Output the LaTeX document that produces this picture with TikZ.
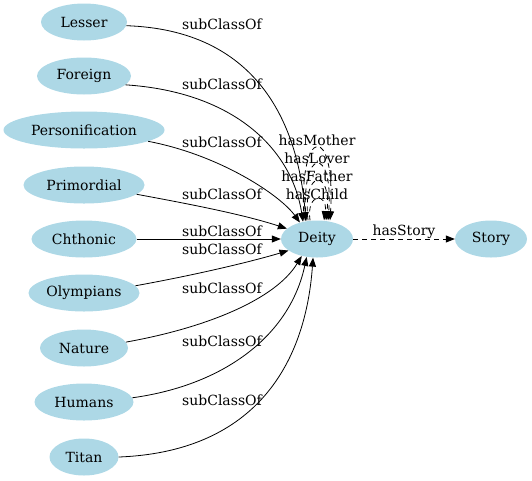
\documentclass[tikz,border=0pt]{standalone}
\usepackage{fontspec}
\setmainfont{DejaVu Serif}
\usepackage{tikz}
\usetikzlibrary{shapes,arrows.meta,positioning,calc}
\definecolor{lightblue}{RGB}{173,216,230}

\begin{document}
\begin{tikzpicture}[x=1pt,y=-1pt,font=\fontsize{14}{16}\selectfont,
    >={Triangle[length=9pt,width=7pt]},
    cls/.style={ellipse,fill=lightblue,minimum height=37pt,inner sep=0pt},
    rel/.style={->,line width=0.8pt},
    lnk/.style={->,line width=0.8pt,dash pattern=on 5pt off 4pt},
    lbl/.style={inner sep=0pt}]
      \useasboundingbox (0,0) rectangle (532,480);

      \coordinate (les) at (84,22);
      \coordinate (for) at (84,76);
      \coordinate (per) at (84,130);
      \coordinate (pri) at (84,185);
      \coordinate (cht) at (84,239);
      \coordinate (oly) at (84,293);
      \coordinate (nat) at (84,348);
      \coordinate (hum) at (84,402);
      \coordinate (tit) at (84,457);
      \coordinate (dei) at (317,239);
      \coordinate (sto) at (491,239);

      \node[cls,minimum width=86pt] (lesn) at (les) {Lesser};
      \node[cls,minimum width=94pt] (forn) at (for) {Foreign};
      \node[cls,minimum width=161pt] (pern) at (per) {Personification};
      \node[cls,minimum width=121pt] (prin) at (pri) {Primordial};
      \node[cls,minimum width=105pt] (chtn) at (cht) {Chthonic};
      \node[cls,minimum width=111pt] (olyn) at (oly) {Olympians};
      \node[cls,minimum width=88pt] (natn) at (nat) {Nature};
      \node[cls,minimum width=99pt] (humn) at (hum) {Humans};
      \node[cls,minimum width=69pt] (titn) at (tit) {Titan};
      \node[cls,minimum width=72pt] (dein) at (dei) {Deity};
      \node[cls,minimum width=72pt] (ston) at (sto) {Story};

      \draw[rel] (lesn.-5) .. controls (255,30) and (298,120) .. (dein.122)
        node[lbl] (s1) at (222,24) {subClassOf};
      \draw[rel] (forn.-12) .. controls (235,92) and (292,150) .. (dein.129)
        node[lbl] (s2) at (222,84) {subClassOf};
      \draw[rel] (pern.-10) .. controls (220,155) and (280,195) .. (dein.136)
        node[lbl] (s3) at (222,142) {subClassOf};
      \draw[rel] (prin.-10) .. controls (195,205) and (245,215) .. (dein.161)
        node[lbl] (s4) at (222,194) {subClassOf};
      \draw[rel] (chtn) -- (dein)
        node[lbl] (s5) at (222,231) {subClassOf};
      \draw[rel] (olyn.8) .. controls (195,275) and (250,262) .. (dein.202)
        node[lbl] (s6) at (222,249) {subClassOf};
      \draw[rel] (natn.8) .. controls (205,328) and (275,300) .. (dein.228)
        node[lbl] (s7) at (222,288) {subClassOf};
      \draw[rel] (humn.5) .. controls (225,385) and (290,335) .. (dein.240)
        node[lbl] (s8) at (222,341) {subClassOf};
      \draw[rel] (titn.east) .. controls (250,452) and (305,370) .. (dein.258)
        node[lbl] (s9) at (222,400) {subClassOf};

      \draw[lnk] ([xshift=-13]dein.north) .. controls +(-6,-97) and +(6,-97) .. ([xshift=13]dein.north)
        node[lbl] (m1) at (317,140) {hasMother};
      \draw[lnk] ([xshift=-11]dein.north) .. controls +(-6,-75) and +(6,-75) .. ([xshift=11]dein.north)
        node[lbl] (m2) at (317,158) {hasLover};
      \draw[lnk] ([xshift=-9]dein.north) .. controls +(-6,-52) and +(6,-52) .. ([xshift=9]dein.north)
        node[lbl] (m3) at (317,176) {hasFather};
      \draw[lnk] ([xshift=-7]dein.north) .. controls +(-4,-28) and +(4,-28) .. ([xshift=7]dein.north)
        node[lbl] (m4) at (317,194) {hasChild};

      \draw[lnk] (dein) -- (ston)
        node[lbl] (st) at (404,232) {hasStory};
\end{tikzpicture}
\end{document}
